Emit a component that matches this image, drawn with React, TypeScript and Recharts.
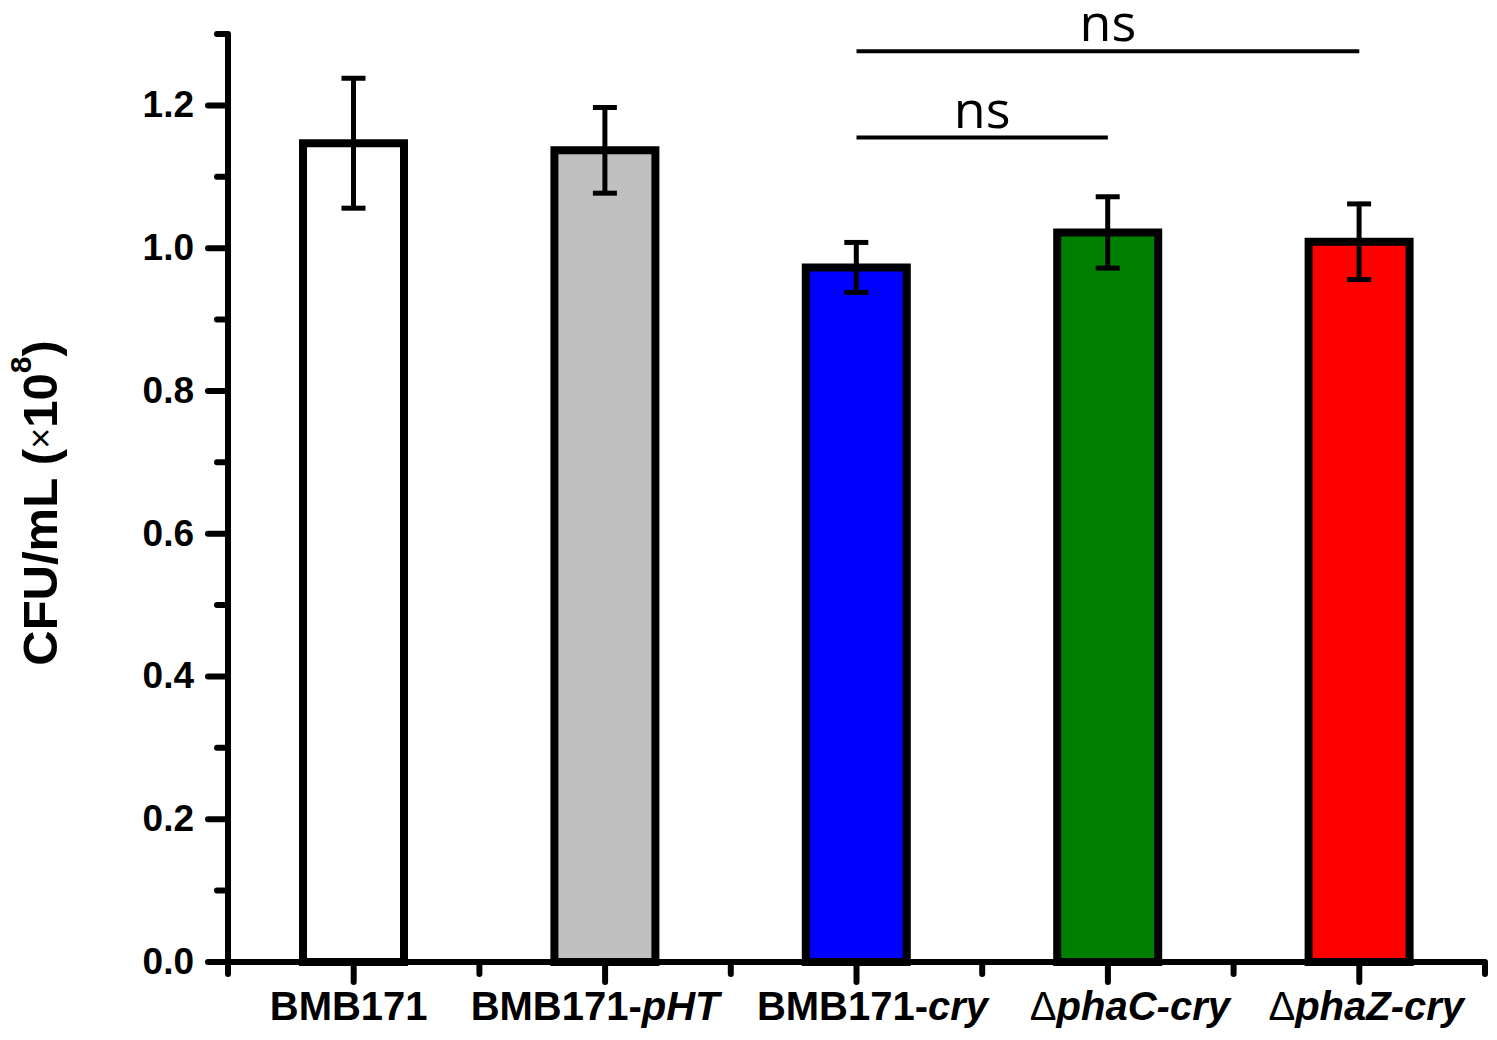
import React from 'react'
import {
    BarChart,
    Bar,
    Cell,
    XAxis,
    YAxis,
    ErrorBar,
    ReferenceLine,
    Label,
} from 'recharts'

// strains, mean CFU/mL (x10^8) and SD
const strains = ['BMB171', 'BMB171-pHT', 'BMB171-cry', 'ΔphaC-cry', 'ΔphaZ-cry']
const cfu = [1.147, 1.137, 0.973, 1.022, 1.009]
const sd = [0.091, 0.06, 0.035, 0.05, 0.053]
const fills = ['#ffffff', '#c0c0c0', '#0000ff', '#008000', '#ff0000']

// tick label pieces: [upright prefix, italic part]
const tickLabels: [string, string][] = [
    ['BMB171', ''],
    ['BMB171-', 'pHT'],
    ['BMB171-', 'cry'],
    ['Δ', 'phaC-cry'],
    ['Δ', 'phaZ-cry'],
]

const yTicks = [0, 0.1, 0.2, 0.3, 0.4, 0.5, 0.6, 0.7, 0.8, 0.9, 1.0, 1.1, 1.2, 1.3]

// significance brackets: [from, to, level]
const brackets: [string, string, number][] = [
    ['BMB171-cry', 'ΔphaC-cry', 1.155],
    ['BMB171-cry', 'ΔphaZ-cry', 1.276],
]

const data = strains.map((name, i) => ({ name, value: cfu[i], err: sd[i] }))

const FONT = '"Liberation Sans", Arial, sans-serif'
const W = 1497
const H = 1040
const M = { top: 34, right: 12, left: 0, bottom: 0 }
const Y_W = 228
const X_H = 78
const BAND = (W - Y_W - M.right) / strains.length
// the original labels sit a little off their tick
const labelShift = [-5, -10, 16, 22, 7]

function YTick({ x, y, payload, index }: any) {
    const major = index % 2 === 0
    return (
        <g>
            <line x1={x - (major ? 20 : 11)} x2={x} y1={y} y2={y} stroke="#000" strokeWidth={6} strokeLinecap="round" />
            {major && (
                <text x={x - 34} y={y + 12} textAnchor="end" fontFamily={FONT} fontWeight="bold" fontSize={37} fill="#000">
                    {payload.value.toFixed(1)}
                </text>
            )}
        </g>
    )
}

function XTick({ x, y, index }: any) {
    const [pre, ital] = tickLabels[index]
    const delta = pre === 'Δ'
    return (
        <g>
            <line x1={x} x2={x} y1={y} y2={y + 20} stroke="#000" strokeWidth={6} strokeLinecap="round" />
            <line x1={x - BAND / 2} x2={x - BAND / 2} y1={y} y2={y + 12} stroke="#000" strokeWidth={6} strokeLinecap="round" />
            {index === strains.length - 1 && (
                <line x1={x + BAND / 2} x2={x + BAND / 2} y1={y} y2={y + 12} stroke="#000" strokeWidth={6} strokeLinecap="round" />
            )}
            <text x={x + labelShift[index]} y={y + 58} textAnchor="middle" fontFamily={FONT} fontWeight="bold" fontSize={40} fill="#000">
                <tspan fontWeight={delta ? 'normal' : 'bold'}>{pre}</tspan>
                {ital && <tspan fontStyle="italic">{ital}</tspan>}
            </text>
        </g>
    )
}

function YTitle({ viewBox }: any) {
    const cx = viewBox.x + 40
    const cy = viewBox.y + viewBox.height / 2 + 5
    return (
        <text
            x={cx}
            y={cy}
            transform={`rotate(-90 ${cx} ${cy})`}
            textAnchor="middle"
            dominantBaseline="central"
            fontFamily={FONT}
            fontWeight="bold"
            fontSize={49}
            fill="#000"
        >
            CFU/mL (<tspan fontWeight="normal" fontSize={36}>×</tspan>10<tspan fontSize={30} dy={-20}>8</tspan>
            <tspan dy={20}>)</tspan>
        </text>
    )
}

export default function App() {
    return (
        <div style={{ position: 'absolute', left: 0, top: 0, width: W, height: H, background: '#fff' }}>
            <BarChart width={W} height={H} data={data} margin={M}>
                <XAxis
                    dataKey="name"
                    height={X_H}
                    axisLine={{ stroke: '#000', strokeWidth: 6 }}
                    tickLine={false}
                    tickSize={0}
                    tickMargin={0}
                    interval={0}
                    tick={<XTick />}
                />
                <YAxis
                    width={Y_W}
                    domain={[0, 1.3]}
                    ticks={yTicks}
                    interval={0}
                    axisLine={{ stroke: '#000', strokeWidth: 6 }}
                    tickLine={false}
                    tickSize={0}
                    tickMargin={0}
                    tick={<YTick />}
                    label={{ content: <YTitle /> }}
                />
                <Bar dataKey="value" barSize={101} stroke="#000" strokeWidth={8} isAnimationActive={false}>
                    {data.map((d, i) => (
                        <Cell key={d.name} fill={fills[i]} />
                    ))}
                    <ErrorBar dataKey="err" width={12} stroke="#000" strokeWidth={5} isAnimationActive={false} />
                </Bar>
                {brackets.map(([a, b, lvl]) => (
                    <ReferenceLine
                        key={b}
                        segment={[{ x: a, y: lvl }, { x: b, y: lvl }]}
                        stroke="#000"
                        strokeWidth={4}
                        ifOverflow="visible"
                    >
                        <Label value="ns" position="top" offset={10} fontFamily='"Open Sans", sans-serif' fontSize={52} fill="#000" />
                    </ReferenceLine>
                ))}
            </BarChart>
        </div>
    )
}
